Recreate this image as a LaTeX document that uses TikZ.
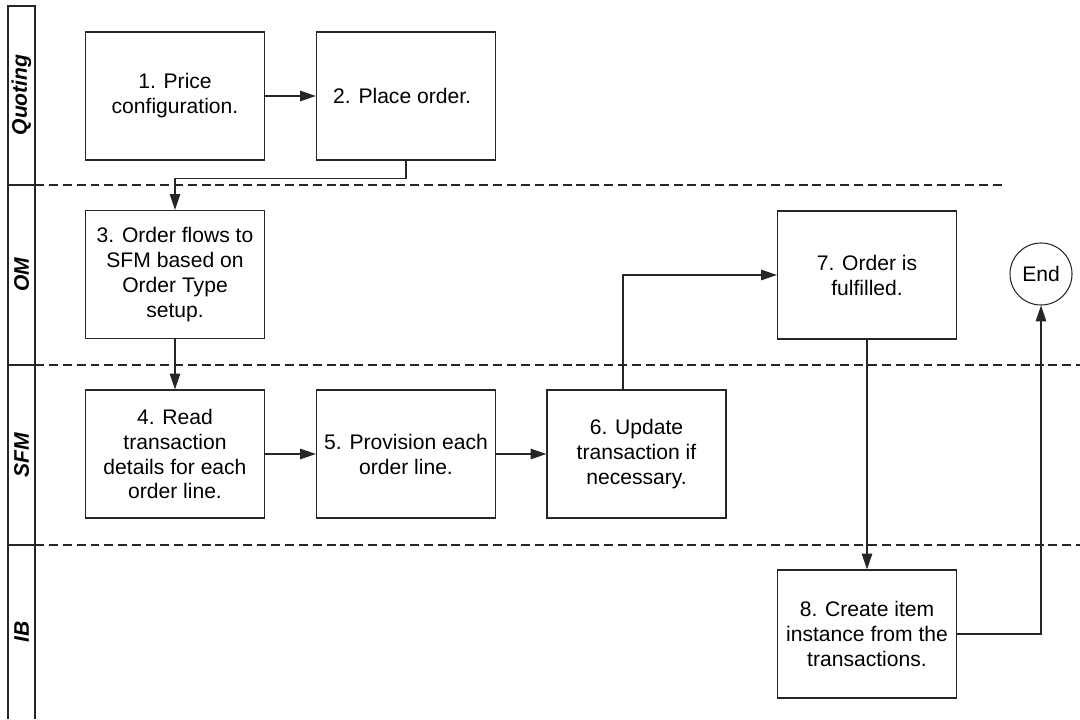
\documentclass[tikz,border=0pt]{standalone}
\usepackage{fontspec}
\setmainfont{Liberation Sans}
\usetikzlibrary{arrows.meta}

\begin{document}
\begin{tikzpicture}[
    stepbox/.style={rectangle, draw=black!85, line width=0.75pt, minimum width=3.58cm, minimum height=2.56cm, align=center, inner sep=2pt, font=\fontsize{12}{14.2}\selectfont},
    endpoint/.style={circle, draw=black!85, line width=0.6pt, minimum size=1.24cm, inner sep=0pt, font=\fontsize{12}{14.2}\selectfont},
    lane/.style={rotate=90, font=\fontsize{12}{14}\selectfont\bfseries\itshape},
    flow/.style={-{Triangle[length=9pt,width=6pt]}, line width=0.65pt, draw=black!85},
    divider/.style={line width=0.6pt, draw=black!85, dash pattern=on 5.1pt off 2.8pt}
]
    \useasboundingbox (0,0) rectangle (21.6,-14.38);

    % Lane header column
    \draw[line width=0.75pt, black!85] (0.16,-14.38) -- (0.16,-0.12) -- (0.70,-0.12) -- (0.70,-14.38);
    \foreach \y in {-3.70, -7.30, -10.90}
        \draw[line width=0.75pt, black!85] (0.16,\y) -- (0.70,\y);

    % Lane dividers
    \draw[divider] (0.70,-3.70) -- (20.10,-3.70);
    \draw[divider] (0.70,-7.30) -- (21.60,-7.30);
    \draw[divider] (0.70,-10.90) -- (21.60,-10.90);

    % Lane names
    \node[lane] (quoting) at (0.43, -1.90) {Quoting};
    \node[lane] (om) at (0.43, -5.50) {OM};
    \node[lane] (sfm) at (0.43, -9.10) {SFM};
    \node[lane] (ib) at (0.43, -12.64) {IB};

    % Quoting
    \node[stepbox] (price) at (3.50, -1.92) {
        1. Price \\
        configuration.
    };
    \node[stepbox] (place) at (8.12, -1.92) {
        2. Place order.
    };

    % OM
    \node[stepbox] (route) at (3.50, -5.49) {
        3. Order flows to \\
        SFM based on \\
        Order Type \\
        setup.
    };
    \node[stepbox] (fulfil) at (17.34, -5.50) {
        7. Order is \\
        fulfilled.
    };
    \node[endpoint] (end) at (20.82, -5.48) {End};

    % SFM
    \node[stepbox] (read) at (3.50, -9.08) {
        4. Read \\
        transaction \\
        details for each \\
        order line.
    };
    \node[stepbox] (provision) at (8.12, -9.08) {
        5. Provision each \\
        order line.
    };
    \node[stepbox] (update) at (12.73, -9.08) {
        6. Update \\
        transaction if \\
        necessary.
    };

    % IB
    \node[stepbox] (instance) at (17.34, -12.68) {
        8. Create item \\
        instance from the \\
        transactions.
    };

    % Flow
    \draw[flow] (price) -- (place);
    \draw[flow] (place.south) -- ++(0,-0.36) -| (route.north);
    \draw[flow] (route) -- (read);
    \draw[flow] (read) -- (provision);
    \draw[flow] (provision) -- (update);
    \draw[flow] ([xshift=-0.27cm]update.north) |- (fulfil.west);
    \draw[flow] (fulfil) -- (instance);
    \draw[flow] (instance.east) -| (end.south);

\end{tikzpicture}
\end{document}
